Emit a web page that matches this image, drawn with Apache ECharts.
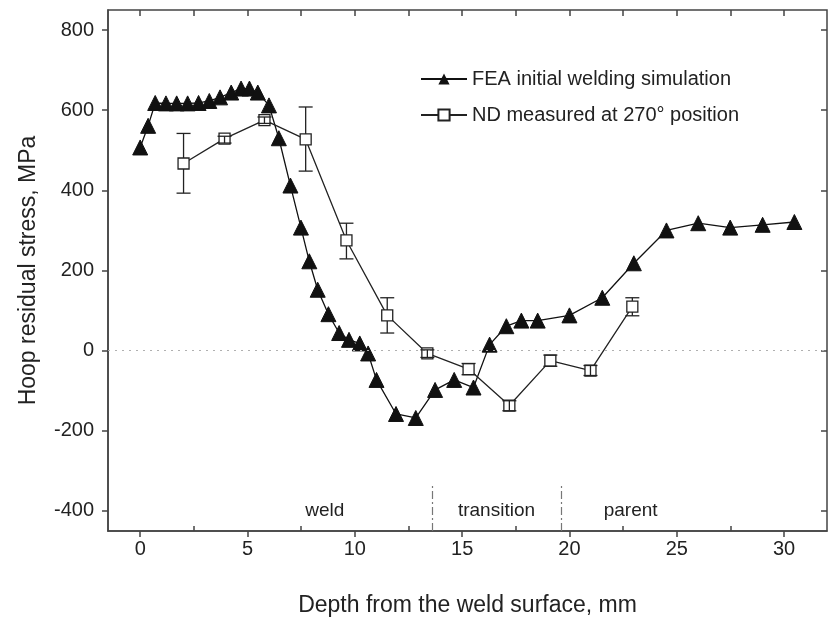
<!DOCTYPE html>
<html>
<head>
<meta charset="utf-8">
<script src="https://cdn.jsdelivr.net/npm/echarts@6/dist/echarts.min.js"></script>
<style>html,body{margin:0;padding:0;background:#fff}#c{width:831px;height:618px}</style>
</head>
<body>
<div id="c"></div>
<script>
// ---- data ----
var feaX = [0, 0.37, 0.70, 1.2, 1.7, 2.21, 2.72, 3.22, 3.72, 4.24, 4.7, 5.09, 5.48, 6.0, 6.46, 7.0, 7.49, 7.88, 8.27, 8.77, 9.27, 9.73, 10.23, 10.62, 11.01, 11.92, 12.84, 13.74, 14.63, 15.53, 16.28, 17.06, 17.76, 18.52, 20.0, 21.53, 23.0, 24.52, 26.0, 27.49, 29.0, 30.48];
var feaY = [507, 561, 618, 617, 617, 617, 618, 623, 632, 644, 654, 654, 644, 612, 530, 412, 307, 223, 152, 91, 44, 27, 18, -7, -73, -158, -168, -98, -73, -92, 15, 61, 75, 75, 88, 132, 218, 300, 318, 307, 314, 321];
var ndX = [2.02, 3.93, 5.79, 7.71, 9.61, 11.51, 13.38, 15.3, 17.2, 19.11, 20.98, 22.93];
var ndY = [467, 529, 575, 527, 275, 88, -7, -46, -137, -25, -50, 110];
var ndLow = [393, 518, 567, 448, 229, 44, -17, -60, -150, -39, -62, 87];
var ndHigh = [542, 535, 583, 608, 318, 132, 2, -32, -125, -11, -37, 132];
var xTicks = [0, 5, 10, 15, 20, 25, 30];
var xMinorTicks = [2.5, 7.5, 12.5, 17.5, 22.5, 27.5];
var xTopTicks = [0, 2.5, 5, 7.5, 10, 12.5, 15, 17.5, 20, 22.5, 25, 27.5, 30];
var yTicks = [-400, -200, 0, 200, 400, 600, 800];
var regionNames = ['weld', 'transition', 'parent'];
var regionX = [8.6, 16.6, 22.85];
var regionY = -400;
var sepX = [13.6, 19.6];
var sepTop = -337;
var seriesNames = ['FEA initial welding simulation', 'ND measured at 270\u00b0 position'];

var FONT = "'Liberation Sans', Arial, Helvetica, sans-serif";
var TXT = '#222';
var AX = '#444';

var feaData = feaX.map(function (x, i) { return [x, feaY[i]]; });
var ndData = ndX.map(function (x, i) { return [x, ndY[i]]; });
var errData = ndX.map(function (x, i) { return [x, ndY[i], ndLow[i], ndHigh[i]]; });
var regionData = regionX.map(function (x, i) { return [x, regionY, regionNames[i]]; });
var sepData = sepX.map(function (x) { return [{ coord: [x, -450] }, { coord: [x, sepTop] }]; });

var chart = echarts.init(document.getElementById('c'), null, { renderer: 'canvas' });
var HALF = 5.5, CAP = 7;
chart.setOption({
  animation: false,
  backgroundColor: '#fff',
  textStyle: { fontFamily: FONT },
  grid: { left: 108, right: 4, top: 10, bottom: 87, containLabel: false, outerBoundsMode: 'none', show: true, borderColor: AX, borderWidth: 1.5, backgroundColor: 'transparent' },
  legend: {
    data: seriesNames,
    orient: 'vertical',
    left: 415, top: 64,
    itemWidth: 46, itemHeight: 14, itemGap: 16,
    textStyle: { fontSize: 20, color: TXT, fontFamily: FONT }
  },
  xAxis: [
    {
      type: 'value', min: -1.5, max: 32, position: 'bottom',
      name: 'Depth from the weld surface, mm', nameLocation: 'middle', nameGap: 63,
      nameTextStyle: { fontSize: 23, color: TXT, fontFamily: FONT },
      axisLine: { show: true, onZero: false, lineStyle: { color: AX, width: 1.5 } },
      axisTick: { show: true, inside: false, length: 6, customValues: xTicks, lineStyle: { color: AX, width: 1.5 } },
      axisLabel: { show: true, customValues: xTicks, fontSize: 20, color: TXT, margin: 8, fontFamily: FONT },
      splitLine: { show: false }
    },
    {
      type: 'value', min: -1.5, max: 32, position: 'bottom', gridIndex: 0,
      axisLine: { show: false, onZero: false },
      axisTick: { show: true, inside: true, length: 5, customValues: xMinorTicks, lineStyle: { color: AX, width: 1.5 } },
      axisLabel: { show: false },
      splitLine: { show: false }
    },
    {
      type: 'value', min: -1.5, max: 32, position: 'top',
      axisLine: { show: false, onZero: false },
      axisTick: { show: true, inside: true, length: 6, customValues: xTopTicks, lineStyle: { color: AX, width: 1.5 } },
      axisLabel: { show: false },
      splitLine: { show: false }
    }
  ],
  yAxis: [
    {
      type: 'value', min: -450, max: 850, position: 'left',
      name: 'Hoop residual stress, MPa', nameLocation: 'middle', nameGap: 68,
      nameTextStyle: { fontSize: 23, color: TXT, fontFamily: FONT },
      axisLine: { show: true, onZero: false, lineStyle: { color: AX, width: 1.5 } },
      axisTick: { show: true, inside: false, length: 6, customValues: yTicks, lineStyle: { color: AX, width: 1.5 } },
      axisLabel: { show: true, customValues: yTicks, fontSize: 20, color: TXT, margin: 14, fontFamily: FONT },
      splitLine: { show: false }
    },
    {
      type: 'value', min: -450, max: 850, position: 'right',
      axisLine: { show: false, onZero: false },
      axisTick: { show: true, inside: true, length: 6, customValues: yTicks, lineStyle: { color: AX, width: 1.5 } },
      axisLabel: { show: false },
      splitLine: { show: false }
    }
  ],
  series: [
    {
      name: seriesNames[0], type: 'line', data: feaData,
      symbol: 'triangle', symbolSize: 15, showAllSymbol: true,
      lineStyle: { color: '#111', width: 1.3 },
      itemStyle: { color: '#111', borderColor: '#111' },
      z: 3,
      markLine: {
        silent: true, symbol: 'none', label: { show: false },
        lineStyle: { color: '#b0b0b0', type: [2, 5], width: 1.2 },
        data: [{ yAxis: 0 }]
      }
    },
    {
      name: seriesNames[1], type: 'line', data: ndData,
      symbol: 'rect', symbolSize: 11, showAllSymbol: true,
      lineStyle: { color: '#222', width: 1.3 },
      itemStyle: { color: '#fff', borderColor: '#222', borderWidth: 1.3 },
      z: 4
    },
    {
      name: 'err', type: 'custom', data: errData, z: 5,
      renderItem: function (params, api) {
        var x = api.value(0);
        var c = api.coord([x, api.value(1)]);
        var lo = api.coord([x, api.value(2)]);
        var hi = api.coord([x, api.value(3)]);
        var st = { stroke: '#222', lineWidth: 1.3 };
        var ch = [];
        if (hi[1] < c[1] - HALF) ch.push({ type: 'line', shape: { x1: c[0], y1: hi[1], x2: c[0], y2: c[1] - HALF }, style: st });
        if (lo[1] > c[1] + HALF) ch.push({ type: 'line', shape: { x1: c[0], y1: c[1] + HALF, x2: c[0], y2: lo[1] }, style: st });
        if (hi[1] >= c[1] - HALF) ch.push({ type: 'line', shape: { x1: c[0], y1: hi[1], x2: c[0], y2: lo[1] }, style: st });
        ch.push({ type: 'line', shape: { x1: c[0] - CAP, y1: hi[1], x2: c[0] + CAP, y2: hi[1] }, style: st });
        ch.push({ type: 'line', shape: { x1: c[0] - CAP, y1: lo[1], x2: c[0] + CAP, y2: lo[1] }, style: st });
        return { type: 'group', children: ch };
      }
    },
    {
      name: 'regions', type: 'scatter', data: regionData,
      symbolSize: 1, itemStyle: { color: 'rgba(0,0,0,0)', opacity: 1 },
      label: { show: true, position: 'inside', formatter: function (p) { return p.data[2]; }, fontSize: 19, color: TXT, opacity: 1, fontFamily: FONT },
      markLine: {
        silent: true, symbol: 'none', label: { show: false },
        lineStyle: { color: '#777', type: [8, 3, 2, 3], width: 1.2 },
        data: sepData
      }
    }
  ]
});
</script>
</body>
</html>
